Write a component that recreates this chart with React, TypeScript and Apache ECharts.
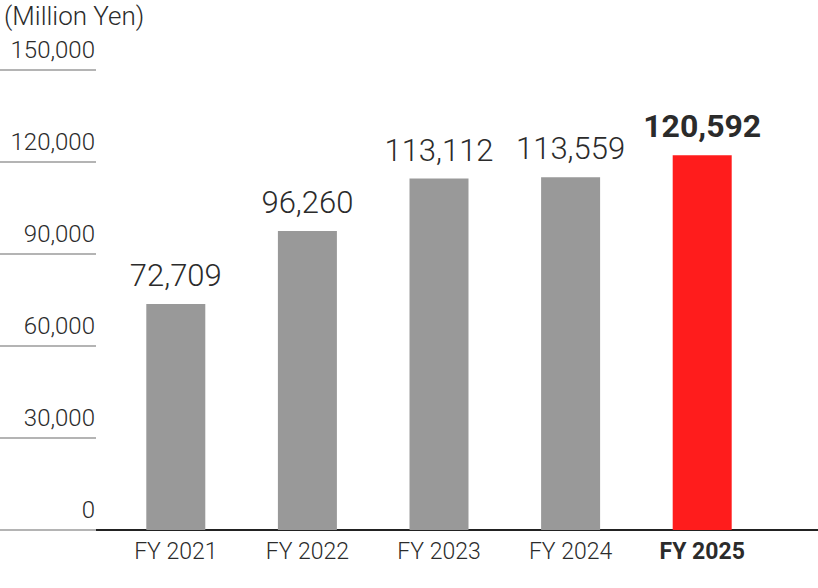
import { useEffect, useRef } from "react";
import * as echarts from "echarts";

const CATEGORIES = ["FY 2021", "FY 2022", "FY 2023", "FY 2024", "FY 2025"];
const VALUES = [72709, 96260, 113112, 113559, 120592];
const UNIT_LABEL = "(Million Yen)";
const Y_MIN = 0;
const Y_MAX = 150000;
const Y_STEP = 30000;

const FONT = "Roboto, 'Noto Sans', sans-serif";
const GRAY = "#999999";
const RED = "#ff1c1c";
const TEXT = "#2b2b2b";

export default function App() {
  const chartRef = useRef<HTMLDivElement>(null);

  useEffect(() => {
    if (!chartRef.current) return;
    const chart = echarts.init(chartRef.current, undefined, { renderer: "svg" });
    const last = VALUES.length - 1;

    const option: echarts.EChartsOption = {
      animation: false,
      textStyle: { fontFamily: FONT },
      title: {
        text: UNIT_LABEL,
        left: 4,
        top: 3,
        padding: 0,
        textStyle: { fontSize: 26, fontWeight: 300, color: TEXT, fontFamily: FONT },
      },
      grid: [
        // bars
        { left: 110, right: 50, top: 64, bottom: 58 },
        // full-width baseline and the short tick rules at the left
        { left: 0, right: 0, top: 70, bottom: 58 },
      ],
      xAxis: [
        {
          type: "category",
          gridIndex: 0,
          data: CATEGORIES,
          axisLine: { show: false },
          axisTick: { show: false },
          axisLabel: {
            interval: 0,
            margin: 10,
            fontSize: 23,
            fontFamily: FONT,
            color: TEXT,
            formatter: (v: string) =>
              v === CATEGORIES[last] ? `{b|${v}}` : `{n|${v}}`,
            rich: {
              n: { fontSize: 23, fontWeight: 300, color: TEXT, fontFamily: FONT },
              b: { fontSize: 23, fontWeight: "bold", color: TEXT, fontFamily: FONT },
            },
          },
        },
        {
          type: "value",
          gridIndex: 1,
          min: 0,
          max: 1,
          axisLine: { show: true, lineStyle: { color: "#222222", width: 2 } },
          axisTick: { show: false },
          axisLabel: { show: false },
          splitLine: { show: false },
        },
      ],
      yAxis: [
        {
          type: "value",
          gridIndex: 0,
          show: false,
          min: Y_MIN,
          max: Y_MAX,
          interval: Y_STEP,
        },
        {
          type: "value",
          gridIndex: 1,
          min: Y_MIN,
          max: Y_MAX,
          interval: Y_STEP,
          position: "left",
          offset: -96,
          axisLine: { show: false },
          axisTick: {
            show: true,
            length: 96,
            lineStyle: { color: "#b4b4b4", width: 2 },
          },
          splitLine: { show: false },
          axisLabel: {
            margin: 1,
            fontSize: 24,
            fontWeight: 300,
            fontFamily: FONT,
            color: TEXT,
            verticalAlign: "bottom",
            padding: [0, 0, 8, 0],
            formatter: (v: number) => v.toLocaleString("en-US"),
          },
        },
      ],
      series: [
        {
          type: "bar",
          xAxisIndex: 0,
          yAxisIndex: 0,
          barWidth: 59,
          data: VALUES.map((v, i) => ({
            value: v,
            itemStyle: { color: i === last ? RED : GRAY },
            label: {
              fontWeight: i === last ? "bold" : 300,
              fontSize: i === last ? 32 : 31,
            },
          })),
          label: {
            show: true,
            position: "top",
            distance: 13,
            fontFamily: FONT,
            color: TEXT,
            formatter: (p: any) => Number(p.value).toLocaleString("en-US"),
          },
        },
      ],
    };

    chart.setOption(option);
    return () => chart.dispose();
  }, []);

  return (
    <div
      ref={chartRef}
      style={{ position: "fixed", left: 0, top: 0, width: 818, height: 588, background: "#fff" }}
    />
  );
}
